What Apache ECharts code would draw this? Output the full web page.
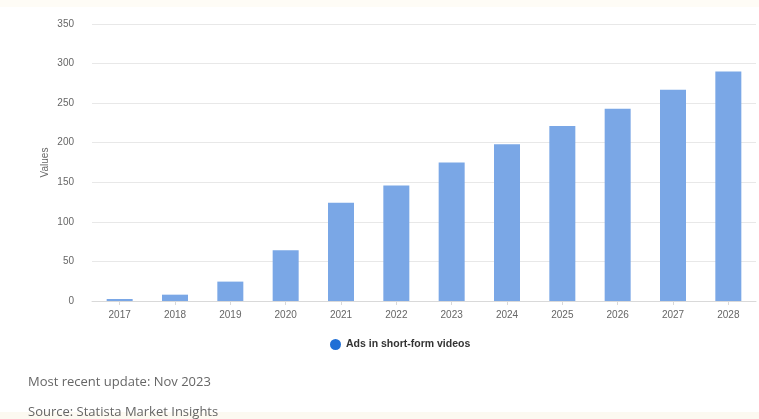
<!DOCTYPE html>
<html>
<head>
<meta charset="utf-8">
<script src="https://cdn.jsdelivr.net/npm/echarts@6/dist/echarts.min.js"></script>
<style>html,body{margin:0;padding:0;background:#fff;}#c{width:759px;height:419px;}</style>
</head>
<body>
<div id="c"></div>
<script>
const categories = ['2017','2018','2019','2020','2021','2022','2023','2024','2025','2026','2027','2028'];
const values = [2.5, 8, 24.5, 64, 124, 146, 175, 198, 221, 243, 267, 290];
const seriesName = 'Ads in short-form videos';
const yTicks = [0, 50, 100, 150, 200, 250, 300, 350];

const chart = echarts.init(document.getElementById('c'), null, {renderer: 'canvas'});
chart.setOption({
  backgroundColor: '#ffffff',
  animation: false,
  grid: {left: 92, right: 3, top: 24, bottom: 118, containLabel: false},
  xAxis: {
    type: 'category',
    data: categories,
    axisLine: {show: true, lineStyle: {color: '#d9d9d9'}},
    axisTick: {show: true, alignWithLabel: true, length: 4, lineStyle: {color: '#d9d9d9'}},
    axisLabel: {color: '#666', fontSize: 10, fontFamily: 'Liberation Sans, Arial', margin: 9}
  },
  yAxis: {
    type: 'value',
    min: yTicks[0], max: yTicks[yTicks.length - 1], interval: 50,
    name: 'Values', nameLocation: 'middle', nameGap: 42, nameRotate: 90,
    nameMoveOverlap: false,
    nameTextStyle: {color: '#666', fontSize: 10, fontFamily: 'Liberation Sans, Arial'},
    axisLine: {show: false}, axisTick: {show: false},
    axisLabel: {color: '#666', fontSize: 10, fontFamily: 'Liberation Sans, Arial', margin: 18},
    splitLine: {lineStyle: {color: '#e8e8e8', width: 1}}
  },
  legend: {
    data: [{name: seriesName, itemStyle: {color: '#1f6fd6'}}],
    left: 325, top: 334, icon: 'circle', itemWidth: 11, itemHeight: 11, itemGap: 5,
    textStyle: {color: '#333', fontSize: 10.5, fontWeight: 'bold', fontFamily: 'Liberation Sans, Arial'}
  },
  series: [{
    name: seriesName, type: 'bar', data: values, barWidth: 26,
    itemStyle: {color: '#7aa7e6'}
  }],
  graphic: [
    {type: 'rect', shape: {x: 0, y: 0, width: 759, height: 7}, style: {fill: '#fefcf6'}, silent: true},
    {type: 'rect', shape: {x: 0, y: 412, width: 759, height: 7}, style: {fill: '#fcf9f1'}, silent: true},
    {type: 'text', left: 28, top: 376, style: {text: 'Most recent update: Nov 2023', fill: '#666', font: '13px "Open Sans"'}},
    {type: 'text', left: 28, top: 406, style: {text: 'Source: Statista Market Insights', fill: '#666', font: '13px "Open Sans"'}}
  ]
});
</script>
</body>
</html>
